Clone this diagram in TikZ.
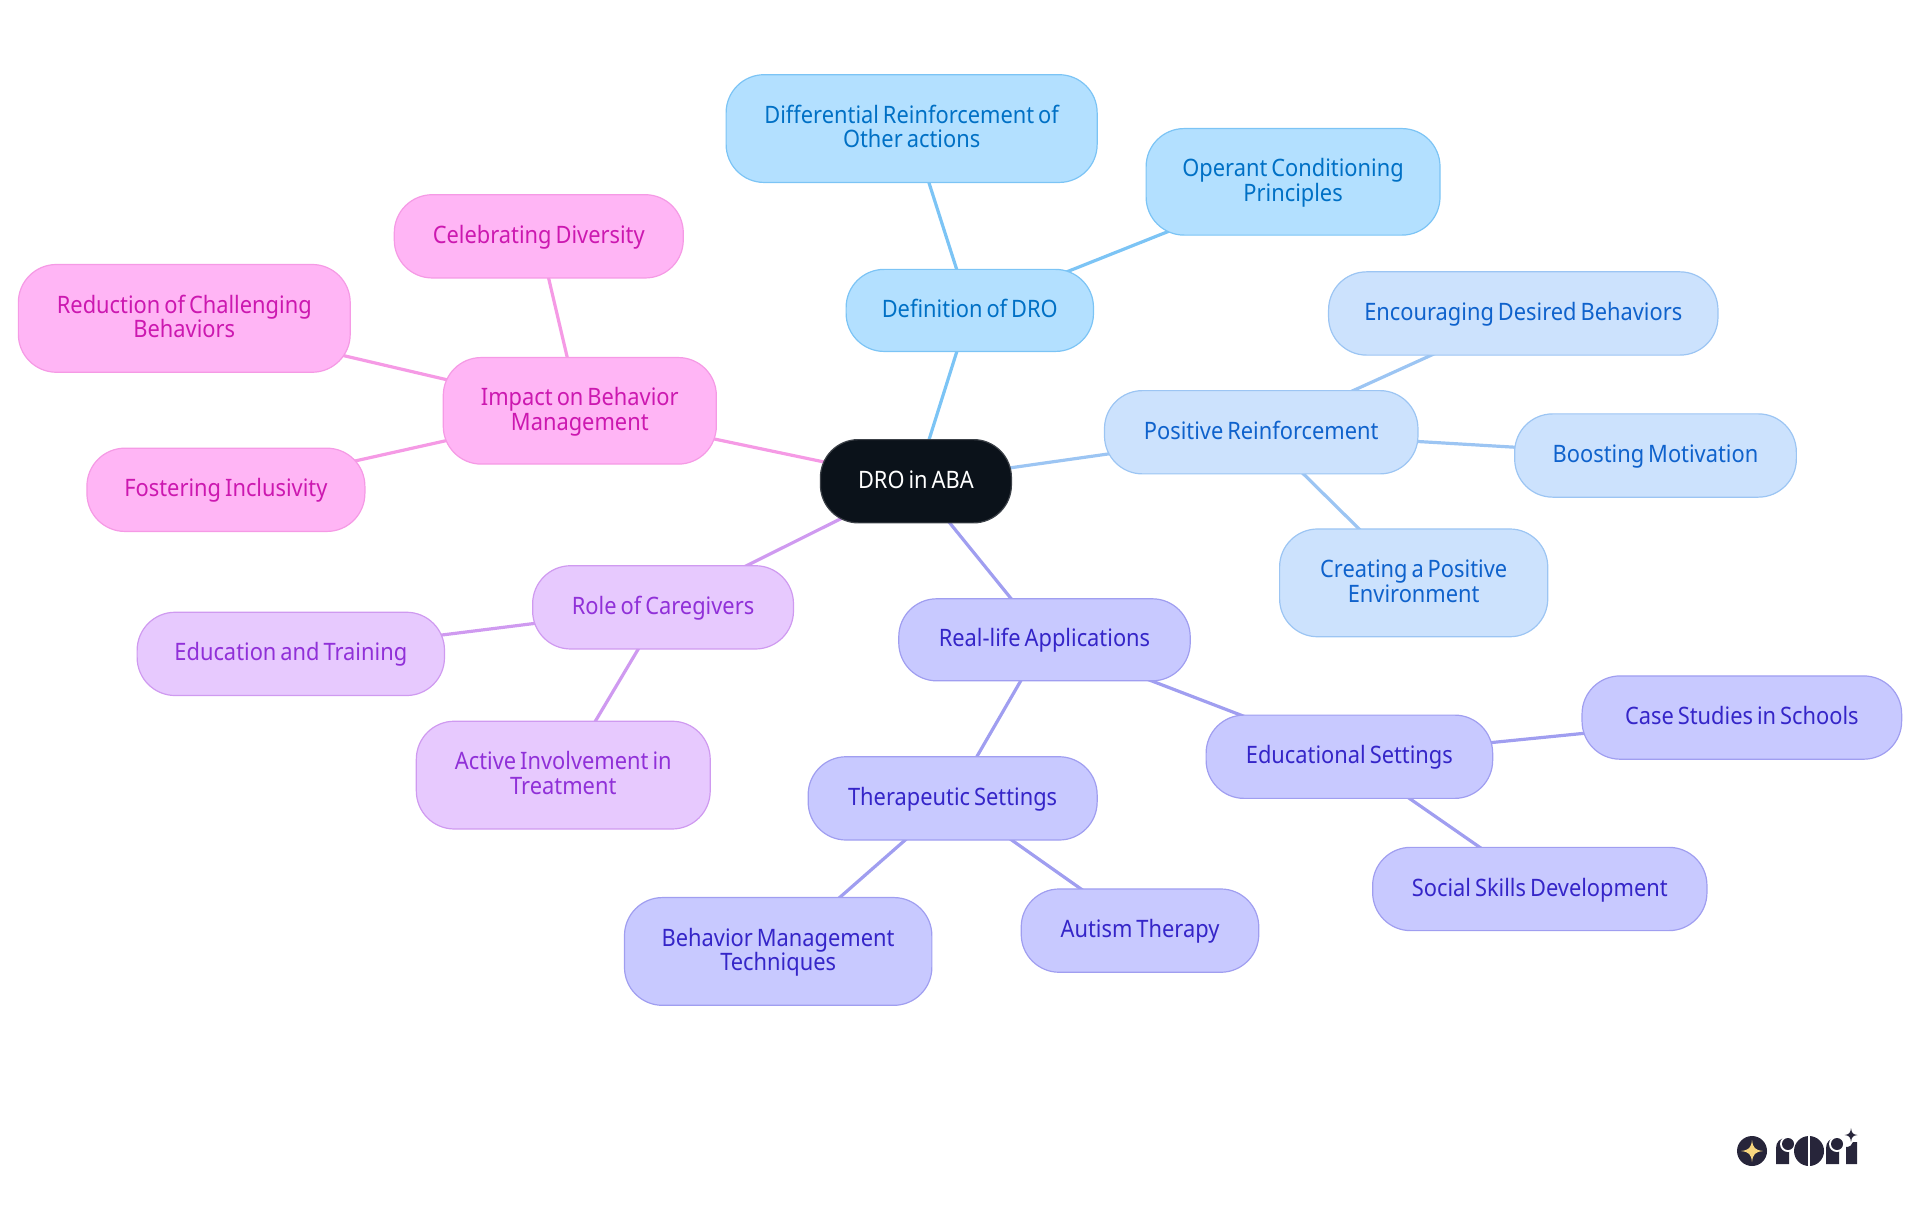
\documentclass[tikz,border=0pt]{standalone}
\usepackage{fontspec}
\setmainfont[FakeStretch=0.91,WordSpace=0.7]{Noto Sans}
\pgfdeclarelayer{bg}
\pgfsetlayers{bg,main}
\definecolor{defF}{HTML}{B3E0FF}\definecolor{defD}{HTML}{7CC4F5}\definecolor{defT}{HTML}{0070C5}
\definecolor{posF}{HTML}{CCE2FD}\definecolor{posD}{HTML}{9CC5F3}\definecolor{posT}{HTML}{0F62CC}
\definecolor{realF}{HTML}{C8C9FF}\definecolor{realD}{HTML}{A09EF0}\definecolor{realT}{HTML}{3525C8}
\definecolor{roleF}{HTML}{E7C9FE}\definecolor{roleD}{HTML}{CF9AF0}\definecolor{roleT}{HTML}{9030D8}
\definecolor{impF}{HTML}{FFB5F5}\definecolor{impD}{HTML}{F59AE5}\definecolor{impT}{HTML}{CC18B0}
\definecolor{rootF}{HTML}{0B121A}\definecolor{logoD}{HTML}{27253A}\definecolor{logoY}{HTML}{F8D67E}
\newcommand{\topstrut}{\rule{0pt}{10pt}}
\newcommand{\botstrut}{\rule[-2.9pt]{0pt}{2.9pt}}
\newcommand{\mnode}[7]{%
  \pgfmathsetmacro{\cxx}{(#3+#5)/2}\pgfmathsetmacro{\cyy}{(#4+#6)/2}%
  \pgfmathsetmacro{\ww}{(#5-#3)*0.61224}\pgfmathsetmacro{\hh}{(#6-#4)*0.61224}%
  \node[#1,minimum width=\ww pt,minimum height=\hh pt] (#2) at (\cxx,\cyy) {\topstrut #7\botstrut};}
\tikzset{
  box/.style={rectangle,rounded corners=19pt,inner sep=0pt,line width=0.6pt,align=center,
    font=\fontsize{12}{12.25}\selectfont},
  rootbox/.style={box,fill=rootF,draw=rootF!80!white,text=white},
  defbox/.style={box,fill=defF,draw=defD,text=defT},
  posbox/.style={box,fill=posF,draw=posD,text=posT},
  realbox/.style={box,fill=realF,draw=realD,text=realT},
  rolebox/.style={box,fill=roleF,draw=roleD,text=roleT},
  impbox/.style={box,fill=impF,draw=impD,text=impT},
  conn/.style={line width=1.6pt}
}
\newcommand{\lnk}[3]{\draw[conn,draw=#1] (#2.center) -- (#3.center);}
\begin{document}
\begin{tikzpicture}[x=0.61224pt,y=-0.61224pt]
\useasboundingbox (0,0) rectangle (1568,992.25);
\mnode{rootbox}{root}{670}{359}{826}{427}{DRO in ABA}
\mnode{defbox}{def}{691}{220}{893}{287}{Definition of DRO}
\mnode{defbox}{diff}{593}{61}{896}{149}{Differential Reinforcement of\\Other actions}
\mnode{defbox}{oper}{936}{105}{1176}{192}{Operant Conditioning\\Principles}
\mnode{posbox}{pos}{902}{319}{1158}{387}{Positive Reinforcement}
\mnode{posbox}{enc}{1085}{222}{1403}{290}{Encouraging Desired Behaviors}
\mnode{posbox}{boost}{1237}{338}{1467}{406}{Boosting Motivation}
\mnode{posbox}{create}{1045}{432}{1264}{520}{Creating a Positive\\Environment}
\mnode{impbox}{impact}{362}{292}{585}{379}{Impact on Behavior\\Management}
\mnode{impbox}{celeb}{322}{159}{558}{227}{Celebrating Diversity}
\mnode{impbox}{reduc}{15}{216}{286}{304}{Reduction of Challenging\\Behaviors}
\mnode{impbox}{foster}{71}{366}{298}{434}{Fostering Inclusivity}
\mnode{rolebox}{role}{435}{462}{648}{530}{Role of Caregivers}
\mnode{rolebox}{edu}{112}{500}{363}{568}{Education and Training}
\mnode{rolebox}{active}{340}{589}{580}{677}{Active Involvement in\\Treatment}
\mnode{realbox}{real}{734}{489}{972}{556}{Real-life Applications}
\mnode{realbox}{thera}{660}{618}{896}{686}{Therapeutic Settings}
\mnode{realbox}{educ}{985}{584}{1219}{652}{Educational Settings}
\mnode{realbox}{case}{1292}{552}{1553}{620}{Case Studies in Schools}
\mnode{realbox}{social}{1121}{692}{1394}{760}{Social Skills Development}
\mnode{realbox}{behav}{510}{733}{761}{821}{Behavior Management\\Techniques}
\mnode{realbox}{autism}{834}{726}{1028}{794}{Autism Therapy}
\begin{pgfonlayer}{bg}
\lnk{defD}{root}{def}\lnk{defD}{def}{diff}\lnk{defD}{def}{oper}
\lnk{posD}{root}{pos}\lnk{posD}{pos}{enc}\lnk{posD}{pos}{boost}\lnk{posD}{pos}{create}
\lnk{impD}{root}{impact}\lnk{impD}{impact}{celeb}\lnk{impD}{impact}{reduc}\lnk{impD}{impact}{foster}
\lnk{roleD}{root}{role}\lnk{roleD}{role}{edu}\lnk{roleD}{role}{active}
\lnk{realD}{root}{real}\lnk{realD}{real}{thera}\lnk{realD}{real}{educ}\lnk{realD}{educ}{case}\lnk{realD}{educ}{social}\lnk{realD}{thera}{behav}\lnk{realD}{thera}{autism}
\end{pgfonlayer}
% logo, drawn in reference pixels
\begin{scope}[x=0.5pt,y=-0.5pt]
\fill[logoD] (1752,1151) circle (15);
\fill[logoY] (1752,1140) .. controls (1753,1148) and (1755,1150) .. (1763,1151) .. controls (1755,1152) and (1753,1154) .. (1752,1162) .. controls (1751,1154) and (1749,1152) .. (1741,1151) .. controls (1749,1150) and (1751,1148) .. (1752,1140) -- cycle;
\fill[logoD] (1776,1164) -- (1776,1148) .. controls (1776,1142) and (1780,1138) .. (1786,1138) -- (1789,1150) -- (1789,1164) -- cycle;
\fill[white] (1788,1144) circle (8);
\fill[logoD] (1788,1144) circle (6);
\fill[logoD] (1809,1151) circle (15);
\fill[white] (1807.8,1134) rectangle (1810.2,1168);
\fill[logoD] (1826,1164) -- (1826,1148) .. controls (1826,1142) and (1830,1138) .. (1836,1138) -- (1839,1150) -- (1839,1164) -- cycle;
\fill[white] (1837,1144) circle (8);
\fill[logoD] (1837,1144) circle (6);
\fill[logoD] (1846,1164) -- (1846,1147) .. controls (1850,1147) and (1852,1145) .. (1853,1142) -- (1857,1142) -- (1857,1164) -- cycle;
\fill[logoD] (1851,1128) .. controls (1851.5,1133) and (1853,1134.5) .. (1857.5,1135) .. controls (1853,1135.5) and (1851.5,1137) .. (1851,1142) .. controls (1850.5,1137) and (1849,1135.5) .. (1844.5,1135) .. controls (1849,1134.5) and (1850.5,1133) .. (1851,1128) -- cycle;
\end{scope}
\end{tikzpicture}
\end{document}
